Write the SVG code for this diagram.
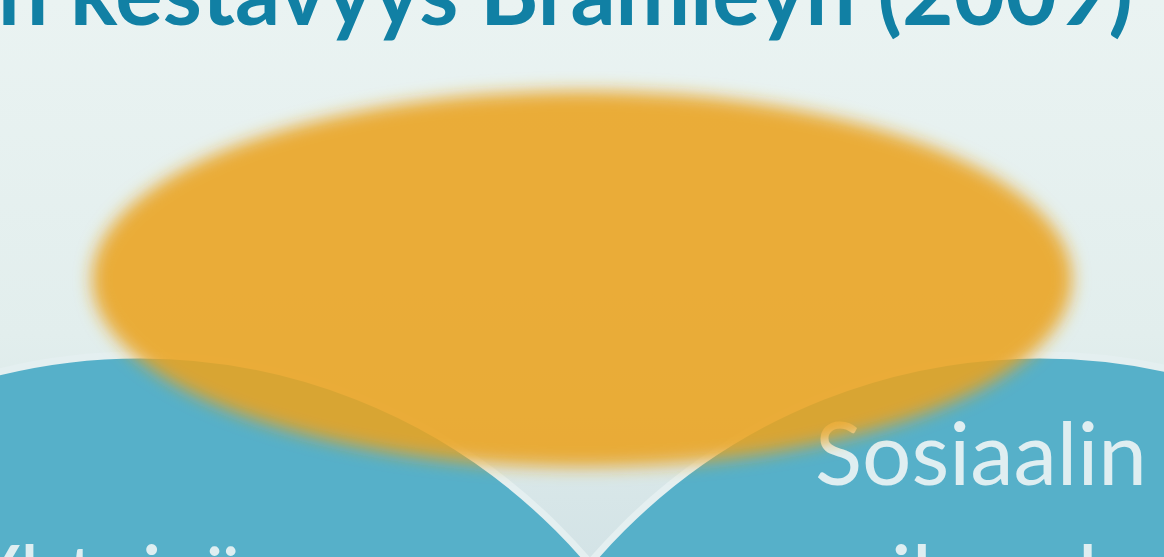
<svg xmlns="http://www.w3.org/2000/svg" width="1164" height="557" viewBox="0 0 1164 557">
  <defs>
    <linearGradient id="bgGrad" x1="0" y1="0" x2="0" y2="1">
      <stop offset="0" stop-color="#eaf3f2"/>
      <stop offset="0.6" stop-color="#e2eeed"/>
      <stop offset="1" stop-color="#d3e3e6"/>
    </linearGradient>
    <filter id="soft" x="-10%" y="-20%" width="120%" height="140%">
      <feGaussianBlur stdDeviation="8.5"/>
    </filter>
    <style>
      .title { font-family: Lato, "Liberation Sans", sans-serif; font-weight: 700; fill: #1180a4; }
      .circle { fill: #56b0c9; stroke: #e4eff0; stroke-width: 7; }
      .label { font-family: Lato, "Liberation Sans", sans-serif; font-weight: 400; font-size: 88px; fill: #dfeef1; }
      .blob { fill: #eaa31f; fill-opacity: 0.88; }
    </style>
  </defs>

  <rect id="background" x="0" y="0" width="1164" height="557" fill="url(#bgGrad)"/>

  <g id="title">
    <text class="title" x="-2" y="25" font-size="90" textLength="1135" lengthAdjust="spacingAndGlyphs">n kestävyys Bramleyn (2009)</text>
  </g>

  <g id="node-left">
    <circle class="circle" cx="140" cy="946" r="591"/>
    <text class="label" x="-33" y="608" textLength="327" lengthAdjust="spacingAndGlyphs">Yhteisön</text>
  </g>

  <g id="node-right">
    <circle class="circle" cx="1040" cy="946" r="591"/>
    <text class="label" x="815" y="485" textLength="332" lengthAdjust="spacingAndGlyphs">Sosiaalin</text>
    <text class="label" x="841" y="608" textLength="352" lengthAdjust="spacingAndGlyphs">oikeuden</text>
  </g>

  <g id="node-top">
    <ellipse class="blob" cx="582" cy="279" rx="490" ry="188" filter="url(#soft)"/>
  </g>

  <g id="connectors"/>
</svg>
